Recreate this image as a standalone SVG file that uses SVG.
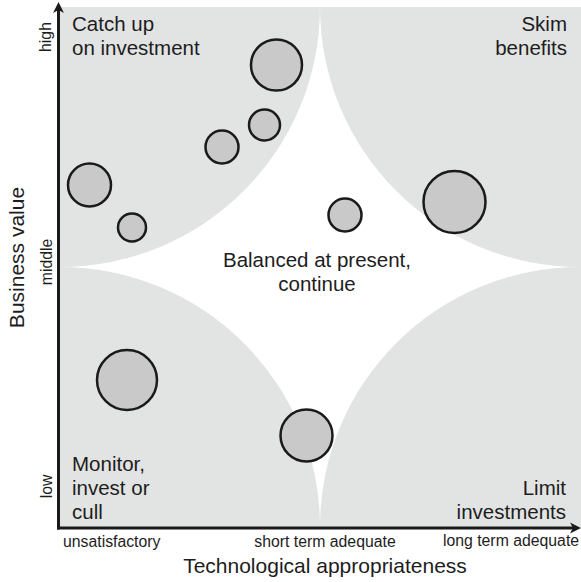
<svg xmlns="http://www.w3.org/2000/svg" width="581" height="582" viewBox="0 0 581 582">
<style>
text{font-family:"Liberation Sans",Arial,sans-serif;fill:#1d1d1d}
.q{font-size:20.5px}
.t{font-size:15.8px}
.a{font-size:21px}
.zone{fill:#e2e3e3}
.bub{fill:#c8c9c8;stroke:#1a1a1a;stroke-width:2.5}
.ax{stroke:#1a1a1a;stroke-width:3;fill:none}
.ah{fill:#1a1a1a}
</style>
<rect width="581" height="582" fill="#fff"/>
<g id="zones">
<path class="zone" d="M60,7 H320 A260,260 0 0 1 60,267 Z"/>
<path class="zone" d="M581,7 V267 H580 A260,260 0 0 1 320,7 Z"/>
<path class="zone" d="M60,527 V267 A260,260 0 0 1 320,527 Z"/>
<path class="zone" d="M581,527 H320 A260,260 0 0 1 580,267 H581 Z"/>
</g>
<g id="connectors">
<path class="ax" d="M58.5,529.5 V8"/>
<path class="ax" d="M57,528 H576"/>
<path class="ah" d="M58.5,2 L64,13 L58.5,10 L53,13 Z"/>
<path class="ah" d="M581,528 L570,522.5 L573,528 L570,533.5 Z"/>
</g>
<g id="quadrant-labels">
<text class="q" x="72" y="30.5">Catch up</text>
<text class="q" x="72" y="54.5">on investment</text>
<text class="q" x="567" y="30.5" text-anchor="end">Skim</text>
<text class="q" x="567" y="54.5" text-anchor="end">benefits</text>
<text class="q" x="317" y="267" text-anchor="middle">Balanced at present,</text>
<text class="q" x="317" y="291" text-anchor="middle">continue</text>
<text class="q" x="72" y="470.5">Monitor,</text>
<text class="q" x="72" y="494.5">invest or</text>
<text class="q" x="72" y="518.5">cull</text>
<text class="q" x="566" y="494.5" text-anchor="end">Limit</text>
<text class="q" x="566" y="518.5" text-anchor="end">investments</text>
</g>
<g id="axis-labels">
<text class="t" x="63" y="547">unsatisfactory</text>
<text class="t" x="325" y="547" text-anchor="middle">short term adequate</text>
<text class="t" x="511" y="546" text-anchor="middle">long term adequate</text>
<text class="a" x="325" y="573" text-anchor="middle">Technological appropriateness</text>
<text class="a" transform="translate(24,257.5) rotate(-90)" text-anchor="middle">Business value</text>
<text class="t" transform="translate(51,37) rotate(-90)" text-anchor="middle">high</text>
<text class="t" transform="translate(51.5,262) rotate(-90)" text-anchor="middle">middle</text>
<text class="t" transform="translate(51.5,486.5) rotate(-90)" text-anchor="middle">low</text>
</g>
<g id="n1"><circle class="bub" cx="276.5" cy="65" r="25.5"/></g>
<g id="n2"><circle class="bub" cx="264.5" cy="125" r="15.5"/></g>
<g id="n3"><circle class="bub" cx="222" cy="147" r="16.5"/></g>
<g id="n4"><circle class="bub" cx="89.5" cy="185" r="21.5"/></g>
<g id="n5"><circle class="bub" cx="132" cy="227.5" r="14"/></g>
<g id="n6"><circle class="bub" cx="345" cy="215" r="16.5"/></g>
<g id="n7"><circle class="bub" cx="454.5" cy="202" r="31"/></g>
<g id="n8"><circle class="bub" cx="127" cy="380" r="30"/></g>
<g id="n9"><circle class="bub" cx="306.5" cy="435.5" r="26"/></g>
</svg>
